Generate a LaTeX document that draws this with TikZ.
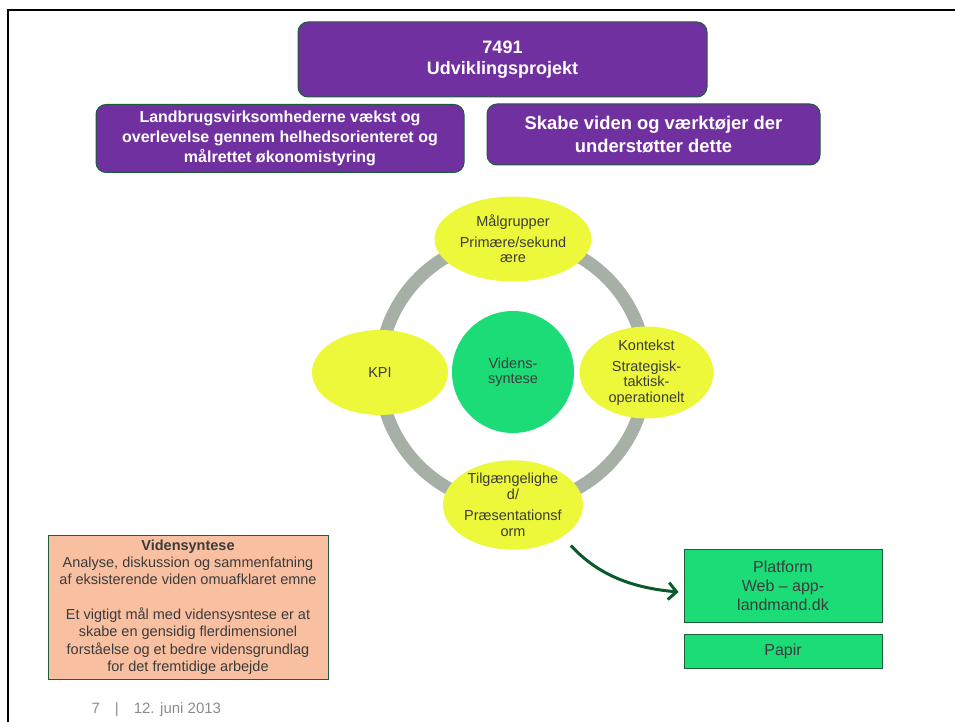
\documentclass[tikz,border=0pt]{standalone}
\usepackage{fontspec}
\setmainfont{Liberation Sans}
\usepackage{tikz}
\usetikzlibrary{shapes.geometric,arrows.meta}
\definecolor{lila}{HTML}{7030A0}
\definecolor{kant}{HTML}{1E5E3A}
\definecolor{gul}{HTML}{EDF83A}
\definecolor{groen}{HTML}{1CDC78}
\definecolor{ring}{HTML}{A7B0A6}
\definecolor{laks}{HTML}{F8BFA0}
\definecolor{pil}{HTML}{0B5A2D}
\definecolor{tekst}{HTML}{3C3C3C}

\begin{document}
\begin{tikzpicture}[x=1pt,y=-1pt,
    maal/.style={draw=kant,line width=1pt,fill=lila,rounded corners=10pt,text=white,align=center,font=\bfseries},
    cirkel/.style={ellipse,fill=gul,text=tekst,align=center,inner sep=0pt,font=\fontsize{14.5}{15.5}\selectfont},
    boks/.style={draw=kant,line width=1pt,fill=groen,text=tekst,align=center,font=\fontsize{16}{19}\selectfont}]
  \useasboundingbox (0,0) rectangle (955,722);
  \draw[line width=2.5pt] (8,722) -- (8,10) -- (955,10);
  \node[maal,minimum width=409,minimum height=75,font=\bfseries\fontsize{18}{21}\selectfont] (projekt) at (502.5,59.5) {7491\\Udviklingsprojekt};
  \node[maal,minimum width=368,minimum height=68,font=\bfseries\fontsize{16}{20}\selectfont] (vaekst) at (280,138.5) {Landbrugsvirksomhederne vækst og\\overlevelse gennem helhedsorienteret og\\målrettet økonomistyring};
  \node[maal,minimum width=333,minimum height=61,font=\bfseries\fontsize{18.4}{23}\selectfont] (viden) at (653.5,134.5) {Skabe viden og værktøjer der\\understøtter dette};
  \draw[ring,line width=13pt] (513,372) circle[radius=133];
  \node[circle,fill=groen,text=tekst,align=center,minimum size=122,font=\fontsize{14.5}{15.5}\selectfont] (synt) at (513,372) {Videns-\\syntese};
  \node[cirkel,minimum width=157,minimum height=85] (maalgr) at (513,239) {Målgrupper\\[5pt]Primære/sekund\\ære};
  \node[cirkel,minimum width=136,minimum height=85] (kpi) at (380,372.5) {KPI};
  \node[cirkel,minimum width=134,minimum height=85] (kontekst) at (646.5,372.5) {Kontekst\\[5pt]Strategisk-\\taktisk-\\operationelt};
  \node[cirkel,minimum width=140,minimum height=86] (tilg) at (513,505) {Tilgængelighe\\d/\\[6pt]Præsentationsf\\orm};
  \node[draw=kant,line width=1pt,fill=laks,text=tekst,align=center,minimum width=280,minimum height=144,font=\fontsize{14.5}{17.3}\selectfont] (synbox) at (188,607) {\textbf{Vidensyntese}\\Analyse, diskussion og sammenfatning\\af eksisterende viden omuafklaret emne\\[17.3pt]Et vigtigt mål med vidensysntese er at\\skabe en gensidig flerdimensionel\\forståelse og et bedre vidensgrundlag\\for det fremtidige arbejde};
  \node[boks,minimum width=198,minimum height=73] (platform) at (783,585.5) {Platform\\Web -- app-\\landmand.dk};
  \node[boks,minimum width=198,minimum height=34] (papir) at (783,651) {Papir};
  \draw[pil,line width=3pt,-{Straight Barb[length=8pt,width=17pt]},shorten <=12pt,shorten >=5pt] (tilg.south east) .. controls (600,577) and (635,588) .. ([yshift=-7pt]platform.west);
  \node[anchor=base west,text=gray!90,font=\fontsize{15}{18}\selectfont] (fod) at (88,713) {7\quad|\quad12. juni 2013};
\end{tikzpicture}
\end{document}
